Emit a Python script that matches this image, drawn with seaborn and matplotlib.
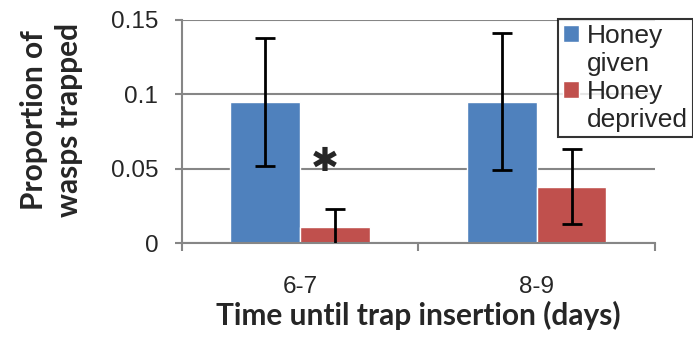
import pandas as pd
import numpy as np
import seaborn as sns
import matplotlib.pyplot as plt
from matplotlib.patches import Patch

# data
periods = ['6-7', '8-9']
groups = ['Honey given', 'Honey deprived']
given_mean = [0.095, 0.095]
given_err = [0.043, 0.046]
deprived_mean = [0.011, 0.038]
deprived_err = [0.012, 0.025]
colors = ['#4f81bd', '#c0504d']

df = pd.DataFrame({
    'period': periods * 2,
    'group': [groups[0]] * 2 + [groups[1]] * 2,
    'prop': given_mean + deprived_mean,
    'err': given_err + deprived_err,
})

sns.set_style('white')
plt.rcParams['font.family'] = ['Liberation Sans', 'DejaVu Sans']

fig = plt.figure(figsize=(6.93, 3.38), dpi=100)
ax = fig.add_axes([0.2626, 0.281, 0.6825, 0.66])

sns.barplot(data=df, x='period', y='prop', hue='group', hue_order=groups,
            palette=colors, width=0.59, ax=ax,
            errorbar=None, saturation=1, legend=False)

# error bars at the bar centres
for cont, g in zip(ax.containers, groups):
    sub = df[df['group'] == g]
    xs = [p.get_x() + p.get_width() / 2 for p in cont.patches]
    ax.errorbar(xs, sub['prop'], yerr=sub['err'], fmt='none',
                ecolor='black', elinewidth=2, capsize=7.5, capthick=2,
                clip_on=True, zorder=5)

ax.set_ylim(0, 0.15)
ax.set_xlim(-0.5, 1.5)
ax.set_yticks([0, 0.05, 0.1, 0.15])
ax.set_yticklabels(['0', '0.05', '0.1', '0.15'])
ax.yaxis.grid(True, color='#868686', linewidth=1.5)
ax.set_axisbelow(True)
for s in ['top', 'right']:
    ax.spines[s].set_visible(False)
for s in ['left', 'bottom']:
    ax.spines[s].set_color('#868686')
    ax.spines[s].set_linewidth(1.5)

ax.tick_params(axis='y', left=True, length=5, width=1.5, color='#868686',
               labelsize=17.5, pad=12)
ax.set_xticks([0, 1])
ax.set_xticks([-0.5, 0.5, 1.5], minor=True)
ax.tick_params(axis='x', which='major', length=0, labelsize=17.5, pad=24)
ax.tick_params(axis='x', which='minor', bottom=True, length=6, width=1.5,
               color='#868686')

ax.set_xlabel('Time until trap insertion (days)', fontsize=21.5,
              fontweight='bold', family='Lato', labelpad=2)
ax.set_ylabel('Proportion of\nwasps trapped', fontsize=21.5,
              fontweight='bold', family='Lato', linespacing=1.3)
ax.yaxis.set_label_coords(-0.21, 0.55)

ax.text(0.105, 0.0545, '\u2731', fontsize=24, ha='center',
        va='center', family='DejaVu Sans')

# legend: patches aligned with first line of each two-line label
blank = Patch(facecolor='none', edgecolor='none')
handles = [Patch(facecolor=colors[0]), blank, Patch(facecolor=colors[1]), blank]
labels = ['Honey', 'given', 'Honey', 'deprived']
leg = ax.legend(handles, labels, loc='upper left',
                bbox_to_anchor=(0.795, 1.005),
                fontsize=19, frameon=True, fancybox=False, edgecolor='black',
                handlelength=0.6, handleheight=0.6, handletextpad=0.3,
                borderpad=0.2, labelspacing=0.15, borderaxespad=0)
leg.get_frame().set_linewidth(1.5)

fig.savefig('out.png', dpi=100)
